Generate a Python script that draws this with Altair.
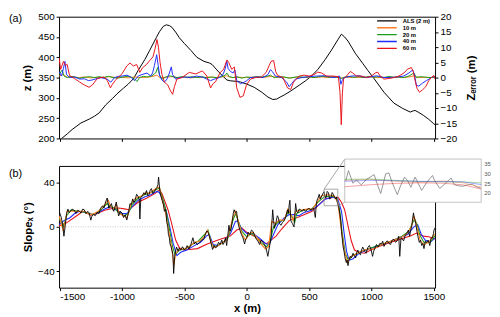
import altair as alt
import pandas as pd

SERIES = ["ALS (2 m)", "10 m", "20 m", "40 m", "60 m"]
COLORS = ["#000000", "#ff7f27", "#1c9c1c", "#1f2dff", "#e8141c"]

# ---------------- (a) elevation profile (left axis) ----------------
ALS_Z = [(-1510, 193), (-1484, 200), (-1440, 211), (-1400, 222), (-1330, 238), (-1261, 248), (-1220, 255),
         (-1183, 263), (-1130, 283), (-1078, 298), (-1040, 310), (-988, 324), (-950, 334), (-909, 347),
         (-870, 368), (-818, 394), (-780, 416), (-726, 448), (-700, 463), (-670, 476), (-645, 480),
         (-620, 478), (-600, 474), (-570, 462), (-540, 448), (-500, 434), (-448, 417), (-400, 400),
         (-343, 390), (-300, 386), (-277, 382), (-240, 369), (-200, 356), (-159, 344), (-130, 342),
         (-93, 341), (-50, 339), (0, 334), (60, 326), (120, 314), (170, 302), (209, 296), (240, 297),
         (274, 303), (300, 307), (353, 317), (420, 331), (471, 342), (520, 354), (570, 370), (628, 394),
         (680, 418), (730, 443), (759, 457), (785, 450), (812, 440), (870, 410), (930, 385), (970, 368),
         (1022, 347), (1100, 314), (1180, 287), (1250, 274), (1311, 265), (1335, 268), (1350, 269),
         (1380, 264), (1416, 257), (1460, 247), (1500, 236), (1510, 234)]

# ---------------- (a) elevation errors (right axis) ----------------
ERR_10 = [(-1505, 0.5), (-1470, 1.0), (-1440, 0.1), (-1400, 0.3), (-1350, 0.0), (-1300, 0.2), (-1250, -0.1),
          (-1200, 0.1), (-1150, 0.0), (-1100, 0.3), (-1050, 0.0), (-1000, 0.1), (-950, -0.1), (-900, 0.2),
          (-850, 0.0), (-800, 0.1), (-760, 0.3), (-720, 0.8), (-700, 0.0), (-650, 0.1), (-600, 0.3),
          (-550, 0.0), (-500, 0.1), (-450, -0.1), (-400, 0.1), (-350, 0.0), (-300, 0.2), (-250, 0.0),
          (-200, 0.2), (-160, 0.6), (-120, 0.0), (-60, 0.1), (0, 0.0), (60, 0.2), (120, 0.0), (200, 0.4),
          (250, 0.0), (300, 0.1), (350, -0.1), (400, 0.1), (450, 0.0), (500, 0.1), (550, 0.0), (600, 0.2),
          (650, 0.0), (700, 0.1), (760, -0.1), (800, 0.1), (850, 0.0), (900, 0.1), (950, 0.0), (1000, 0.2),
          (1050, 0.0), (1100, 0.1), (1150, 0.0), (1200, 0.1), (1250, 0.0), (1300, 0.2), (1340, 0.6),
          (1380, 0.0), (1440, 0.1), (1510, 0.0)]
ERR_20 = [(-1505, 1.0), (-1480, 2.5), (-1465, 0.5), (-1440, 0.0), (-1410, 0.4), (-1380, 0.2), (-1340, -0.2),
          (-1300, 0.1), (-1260, 0.3), (-1220, 0.0), (-1180, 0.3), (-1150, 0.0), (-1110, 0.4), (-1080, 0.1),
          (-1040, -0.2), (-1000, 0.1), (-960, 0.4), (-930, 0.2), (-900, -0.4), (-880, -1.3), (-860, 0.0),
          (-830, 0.4), (-800, 0.2), (-760, 0.6), (-730, 1.5), (-715, 3.3), (-700, 1.0), (-680, -0.5),
          (-650, 0.2), (-620, 0.6), (-600, 0.4), (-560, 0.0), (-520, 0.3), (-480, 0.1), (-440, 0.3),
          (-400, 0.0), (-360, 0.3), (-320, -0.1), (-280, 0.2), (-240, 0.0), (-200, 0.3), (-170, 0.9),
          (-160, 1.5), (-140, 0.3), (-110, 0.0), (-80, 0.3), (-40, -0.2), (0, 0.2), (40, 0.0), (80, 0.3),
          (120, 0.2), (160, 0.4), (190, 0.8), (220, 0.0), (260, 0.3), (300, 0.2), (340, -0.2), (380, 0.1),
          (420, 0.3), (460, 0.1), (500, 0.3), (540, 0.0), (580, 0.3), (620, 0.4), (660, 0.1), (700, 0.3),
          (740, 0.0), (760, -0.3), (790, 0.2), (820, 0.4), (860, 0.1), (900, 0.3), (940, 0.0), (980, 0.4),
          (1020, 0.1), (1060, 0.3), (1100, 0.0), (1140, 0.4), (1180, 0.1), (1220, 0.2), (1260, 0.0),
          (1300, 0.5), (1340, 1.5), (1360, 0.0), (1390, 0.3), (1420, 0.2), (1460, 0.0), (1510, 0.1)]
ERR_40 = [(-1505, 2.0), (-1485, 0.5), (-1470, 3.0), (-1458, 5.3), (-1445, 1.0), (-1420, 0.0), (-1380, 0.2),
          (-1340, -0.5), (-1300, -0.4), (-1270, -1.0), (-1240, -0.8), (-1200, -0.3), (-1170, 0.0),
          (-1120, -0.5), (-1090, -1.5), (-1060, 0.0), (-1030, 0.4), (-1000, 0.5), (-960, 0.8), (-930, 0.2),
          (-900, -1.0), (-870, 0.5), (-840, 1.0), (-800, 1.5), (-770, 0.5), (-755, 1.5), (-740, 4.0),
          (-722, 7.5), (-710, 4.0), (-698, 0.5), (-680, -0.8), (-660, -1.5), (-640, -0.5), (-620, 1.5),
          (-605, 3.5), (-595, 1.0), (-570, -0.5), (-540, 0.0), (-500, 0.2), (-450, 0.0), (-400, 0.5),
          (-350, 0.1), (-320, -0.5), (-290, -1.0), (-260, -0.5), (-220, 0.0), (-190, 1.0), (-172, 3.0),
          (-160, 5.5), (-150, 3.0), (-130, 2.0), (-110, 1.5), (-95, 2.5), (-80, -1.0), (-50, -2.0),
          (-20, -1.5), (0, -1.0), (30, 0.0), (80, 0.2), (130, 0.0), (170, 1.0), (190, 2.6), (205, 2.0),
          (230, 0.5), (280, 0.0), (320, -1.5), (340, -3.0), (360, -2.0), (390, -0.5), (440, 0.0),
          (500, 0.3), (560, 0.5), (620, 0.6), (700, 0.0), (745, 0.5), (755, -2.2), (765, -1.0), (780, 0.0),
          (840, 0.5), (900, 0.6), (960, 0.0), (1040, 0.6), (1100, 0.0), (1180, 0.1), (1260, 0.5),
          (1300, 1.5), (1330, 2.5), (1345, 1.0), (1360, -2.5), (1380, -2.8), (1410, -1.8), (1440, -1.0),
          (1470, -0.3), (1500, 0.5), (1510, 0.0)]
ERR_60 = [(-1505, 6.5), (-1492, 2.7), (-1470, 5.3), (-1455, 4.0), (-1440, 4.3), (-1421, 0.7), (-1382, -0.3),
          (-1342, -1.4), (-1303, -2.4), (-1264, -3.2), (-1237, -2.4), (-1198, -0.3), (-1146, 0.2),
          (-1119, -0.9), (-1093, -3.4), (-1080, -2.4), (-1054, -0.9), (-1001, 1.2), (-962, 3.8),
          (-936, 4.8), (-909, 3.8), (-883, 4.3), (-857, 1.7), (-836, 3.2), (-804, 4.3), (-780, 5.5),
          (-752, 6.8), (-735, 9.5), (-720, 12.5), (-708, 10.0), (-695, 5.0), (-680, 1.0), (-660, -1.5),
          (-634, -2.4), (-610, -4.5), (-594, -5.5), (-580, -3.0), (-560, -0.5), (-520, 0.0), (-461, 1.7),
          (-408, 1.2), (-356, 2.2), (-320, 0.5), (-290, -3.4), (-270, -2.0), (-251, -1.4), (-212, 1.7),
          (-185, 2.7), (-159, 5.8), (-145, 5.0), (-120, 2.7), (-100, 3.5), (-80, -3.4), (-54, -6.5),
          (-28, -6.0), (-2, -2.4), (30, -0.5), (70, 0.0), (117, 0.2), (156, 1.7), (180, 4.0), (195, 5.3),
          (216, 5.6), (232, 2.0), (248, 0.7), (290, 0.0), (327, -3.4), (353, -3.9), (375, -1.5),
          (420, 0.5), (460, 0.8), (500, 0.5), (540, 1.0), (570, 1.8), (600, 1.5), (640, 0.5), (690, 0.5),
          (735, 0.3), (748, -5.0), (758, -15.5), (767, -5.0), (776, -0.5), (800, 0.5), (830, 2.0),
          (850, 1.5), (880, 0.5), (920, 0.5), (960, 0.0), (1000, 0.5), (1030, 1.5), (1050, 1.8),
          (1070, 0.5), (1100, -0.5), (1140, -0.3), (1180, 0.0), (1220, 0.5), (1260, 1.5), (1290, 2.8),
          (1320, 3.3), (1335, 2.0), (1350, -1.0), (1365, -3.5), (1385, -4.8), (1410, -4.0), (1435, -3.0),
          (1460, -1.0), (1480, 0.0), (1500, 0.7), (1510, -0.5)]

# ---------------- (b) slope profiles ----------------
SLOPE_ALS = [(-1505, 12), (-1500, 12.6), (-1487, 8.4), (-1476, 2), (-1466, -8.5), (-1455, 1.4), (-1445, 12),
             (-1434, 16), (-1424, 13), (-1413, 14), (-1400, 16), (-1382, 14.8), (-1370, 12), (-1355, 15),
             (-1342, 14), (-1330, 12.5), (-1315, 16), (-1303, 15.4), (-1290, 12), (-1275, 14), (-1264, 12.6),
             (-1250, 6), (-1243, 9.2), (-1229, 11.2), (-1215, 10), (-1200, 13), (-1185, 12), (-1172, 16.8),
             (-1155, 19), (-1145, 17), (-1132, 22.4), (-1119, 26), (-1106, 16.8), (-1095, 19), (-1085, 21),
             (-1075, 16), (-1067, 14), (-1056, 18), (-1046, 22.4), (-1036, 15), (-1027, 9.8), (-1015, 14),
             (-1001, 12.6), (-988, 8.4), (-975, 11), (-962, 6.1), (-949, 12.6), (-936, 21), (-925, 20),
             (-915, 25.2), (-905, 22), (-896, 23.8), (-883, 29.4), (-870, 27), (-862, 25), (-857, 7),
             (-849, 26.6), (-838, 28), (-825, 30.8), (-815, 29), (-804, 32.8), (-793, 28), (-783, 29.4),
             (-774, 33), (-765, 34.5), (-752, 30), (-739, 32.2), (-730, 34), (-720, 35.6), (-712, 38),
             (-707, 44.9), (-700, 36), (-694, 30.8), (-686, 27), (-678, 23.8), (-668, 20), (-660, 14),
             (-650, 16), (-641, 4.2), (-633, 0), (-628, -7), (-620, -10), (-615, -15.5), (-607, -18),
             (-600, -21.1), (-592, -25), (-586, -42.2), (-578, -26.7), (-570, -22), (-563, -18.3), (-550, -22),
             (-540, -19), (-529, -21.1), (-515, -18), (-500, -21), (-489, -19.7), (-478, -17), (-465, -20),
             (-450, -16.9), (-440, -13), (-432, -9.9), (-420, -15.5), (-411, -14), (-395, -16), (-379, -14.1),
             (-362, -12), (-345, -11.3), (-330, -6), (-319, -3.7), (-310, -5), (-300, -8.5), (-288, -14),
             (-274, -20.5), (-262, -17), (-250, -19), (-240, -18.3), (-226, -14), (-214, -16), (-200, -12),
             (-190, -16), (-180, -14.1), (-170, -10), (-161, -16.9), (-152, -8), (-143, 1.4), (-135, -4),
             (-127, -2.9), (-115, 6), (-108, 12), (-101, 15.4), (-92, 13), (-82, 14), (-75, 8), (-69, 2.8),
             (-55, -3), (-43, -7), (-30, -10), (-17, -15.5), (-8, -11), (2, -9.9), (12, -5), (25, -7),
             (38, -3), (51, -4.3), (64, -8), (77, -11.3), (90, -13), (103, -16), (116, -12), (130, -14.1),
             (143, -16), (156, -19.7), (169, -26.7), (182, -18.3), (195, -9.9), (202, 4), (208, 15.4),
             (215, 6), (222, -1.4), (235, 4.2), (245, 10), (253, 8.4), (263, 3), (274, 1.4), (287, 4),
             (300, 5.6), (313, 9), (327, 15.4), (334, 12), (340, 19.6), (346, 24), (353, 5.6), (366, 3),
             (379, -0.1), (385, 10), (392, 21), (400, 14), (410, 12.6), (420, 16), (431, 15.4), (445, 14),
             (458, 16), (470, 14), (484, 15.4), (497, 17), (510, 15.4), (524, 16), (537, 16.8), (544, 12),
             (550, 8.4), (556, 18), (563, 23.8), (572, 26), (581, 29.4), (590, 25), (602, 28), (611, 30),
             (620, 31.7), (628, 27), (636, 26.1), (645, 32), (655, 30.8), (665, 25), (676, 26.6), (685, 31),
             (694, 29.4), (703, 27), (712, 25.2), (720, 27), (728, 21), (738, 18), (747, 11.2), (754, 5),
             (760, -4.3), (767, -12), (773, -18.3), (780, -22), (786, -26.7), (792, -30), (799, -32.3),
             (805, -30), (812, -35.1), (820, -30), (831, -26.7), (840, -28), (852, -23.9), (862, -26),
             (873, -28.1), (882, -23), (891, -21.1), (900, -24), (912, -25.3), (920, -21), (930, -18.3),
             (945, -22), (957, -23.9), (970, -19), (983, -16.9), (995, -20), (1009, -26.7), (1018, -22),
             (1027, -19.7), (1040, -16), (1054, -18.3), (1067, -15), (1080, -15.5), (1090, -13),
             (1101, -17.7), (1115, -14), (1127, -12.7), (1140, -15), (1153, -16), (1166, -12), (1180, -11.3),
             (1193, -14), (1206, -12.7), (1219, -8.5), (1227, -26.7), (1237, -9.9), (1248, -11),
             (1258, -12.7), (1270, -8), (1285, -5.7), (1296, -3), (1306, -8.5), (1315, -3), (1324, 1.4),
             (1331, 8), (1337, 12.6), (1343, 8), (1348, 7), (1355, 3), (1363, -2.9), (1373, -9),
             (1384, -14.1), (1393, -12), (1403, -16.9), (1412, -15), (1421, -19.7), (1432, -13),
             (1442, -14.1), (1455, -12), (1468, -16.9), (1478, -10), (1489, -9.9), (1497, -6), (1502, -2.9),
             (1510, -1)]
SLOPE_10 = [(-1505, 10), (-1470, -4), (-1440, 14), (-1400, 14), (-1350, 14), (-1300, 14), (-1260, 11),
            (-1220, 12), (-1180, 15), (-1130, 21), (-1110, 24), (-1090, 18), (-1070, 16), (-1045, 20),
            (-1020, 12), (-990, 10), (-960, 8), (-930, 20), (-900, 25), (-870, 27), (-840, 28), (-810, 31),
            (-780, 30), (-750, 33), (-720, 35), (-700, 36), (-680, 25), (-650, 12), (-625, -4), (-600, -20),
            (-585, -35), (-570, -24), (-540, -20), (-500, -20), (-460, -18), (-420, -14), (-380, -13),
            (-340, -9), (-315, -3), (-290, -12), (-265, -19), (-230, -17), (-190, -14), (-160, -12),
            (-140, -4), (-110, 9), (-90, 14), (-70, 6), (-40, -6), (-10, -12), (20, -6), (50, -5), (80, -10),
            (110, -15), (150, -20), (175, -18), (200, 5), (230, 3), (260, 6), (300, 6), (330, 16), (345, 14),
            (370, 6), (395, 14), (430, 15), (480, 16), (530, 16), (560, 22), (600, 28), (650, 29), (700, 28),
            (730, 22), (755, 0), (780, -20), (805, -32), (830, -27), (870, -25), (920, -22), (970, -20),
            (1020, -20), (1080, -16), (1130, -14), (1180, -12), (1230, -10), (1280, -7), (1320, 0),
            (1340, 10), (1360, 2), (1390, -12), (1420, -16), (1460, -14), (1510, -6)]
SLOPE_20 = [(-1505, 8), (-1470, 0), (-1445, 10), (-1410, 15), (-1350, 14), (-1290, 13), (-1240, 11),
            (-1180, 14), (-1120, 21), (-1090, 18), (-1060, 17), (-1030, 13), (-980, 10), (-950, 12),
            (-920, 20), (-870, 26), (-820, 29), (-770, 31), (-720, 34), (-700, 35), (-680, 28), (-650, 16),
            (-620, -2), (-595, -18), (-575, -25), (-540, -21), (-490, -20), (-440, -16), (-390, -13),
            (-330, -6), (-310, -3), (-280, -16), (-250, -18), (-200, -15), (-150, -10), (-110, 6), (-90, 12),
            (-70, 6), (-40, -4), (0, -9), (40, -6), (80, -10), (120, -15), (160, -18), (185, -14), (215, 0),
            (260, 5), (300, 6), (335, 14), (360, 10), (385, 4), (400, 12), (450, 15), (520, 16), (570, 22),
            (620, 27), (680, 28), (720, 26), (745, 15), (765, -5), (790, -24), (815, -30), (850, -26),
            (920, -22), (1000, -19), (1080, -16), (1160, -13), (1240, -9), (1300, -4), (1340, 6),
            (1360, 4), (1390, -8), (1420, -14), (1470, -14), (1510, -8)]
SLOPE_40 = [(-1505, 2), (-1460, 6), (-1420, 8), (-1380, 12), (-1340, 14), (-1290, 13), (-1240, 11),
            (-1190, 13), (-1140, 16), (-1100, 18), (-1070, 16), (-1040, 15), (-1000, 12), (-960, 12),
            (-920, 18), (-870, 24), (-820, 27), (-770, 29), (-720, 32), (-700, 31), (-670, 23), (-640, 12),
            (-610, -4), (-590, -15), (-560, -26), (-530, -23), (-480, -21), (-420, -17), (-370, -14),
            (-320, -8), (-300, -7), (-270, -16), (-230, -17), (-180, -13), (-130, -6), (-90, 5), (-70, 5),
            (-40, -2), (0, -6), (50, -6), (100, -10), (150, -15), (180, -16), (210, -8), (250, 2), (300, 8),
            (340, 11), (380, 11), (420, 10), (460, 13), (520, 15), (580, 20), (630, 25), (690, 27),
            (730, 25), (760, 14), (780, -5), (800, -22), (820, -30), (850, -29), (900, -24), (980, -20),
            (1060, -17), (1140, -14), (1220, -10), (1290, -7), (1340, 0), (1370, 2), (1400, -7),
            (1430, -12), (1470, -14), (1510, -10)]
SLOPE_60 = [(-1505, 0.8), (-1445, 3.6), (-1366, 9.8), (-1314, 14), (-1250, 10.5), (-1198, 12), (-1140, 15),
            (-1078, 16.5), (-1026, 17), (-970, 16), (-946, 15.4), (-868, 22.4), (-800, 26), (-737, 30),
            (-700, 33.5), (-680, 30), (-660, 24), (-630, 15), (-600, 2), (-570, -12), (-540, -19),
            (-510, -21), (-460, -20.5), (-395, -19.7), (-317, -15.5), (-230, -12), (-133, -8.4),
            (-80, -2.9), (-40, -1), (0, -5), (79, -9.8), (157, -15.5), (235, -8.4), (280, -2), (340, 5.6),
            (420, 9), (524, 14), (580, 20), (628, 25.3), (690, 26.5), (733, 26.6), (760, 22), (785, 15.4),
            (810, 2), (838, -12.6), (864, -21), (900, -23), (943, -23.9), (1048, -18.3), (1180, -13),
            (1311, -8.4), (1363, -5.6), (1416, -8.4), (1460, -9), (1510, -11)]

# ---------------- inset (zoom of x = 620..730) ----------------
INSET_ALS = [(620.8, 26.5), (623, 31.8), (626.6, 25.3), (629.5, 27), (633.2, 24.5), (638, 27.5),
             (643.7, 29.7), (646.4, 24.5), (649, 20), (653, 30.1), (655.6, 30.6), (658, 26), (662.4, 19.4),
             (665, 24), (668.2, 28.5), (670.8, 26.5), (673.3, 23.2), (676.7, 28.5), (679.4, 25),
             (682, 21.6), (685.8, 25.5), (690.7, 29.3), (692.6, 26.5), (696.6, 22.6), (700.8, 25),
             (705.7, 28), (708.4, 24.5), (711.8, 24), (715, 23.7), (718.9, 24.5), (722.9, 24.7),
             (726, 23.5), (729.4, 22.9)]
INSET_10 = [(620, 26.8), (640, 27.3), (660, 26.3), (680, 25.8), (700, 26.5), (715, 25.5), (730, 23.3)]
INSET_20 = [(620, 27.3), (640, 27.5), (660, 26.8), (680, 26.2), (700, 26.0), (715, 26.0), (730, 25.5)]
INSET_40 = [(620, 26.3), (640, 26.8), (660, 26.6), (680, 26.3), (700, 26.2), (715, 26.0), (730, 24.6)]
INSET_60 = [(620, 23.5), (640, 24.5), (660, 25.2), (680, 25.5), (700, 25.3), (715, 24.5), (730, 22.3)]
INSET_TICKS = [20, 25, 30, 35]

ZOOM_BOX = {"x0": [620], "x1": [730], "y0": [19], "y1": [34]}
INSET_BOX = {"x0": [620], "x1": [730], "y0": [15.5], "y1": [37.75]}

X_TICKS = [-1500, -1000, -500, 0, 500, 1000, 1500]
Z_TICKS = [200, 250, 300, 350, 400, 450, 500]
E_TICKS = [-20, -15, -10, -5, 0, 5, 10, 15, 20]
S_TICKS = [-40, -20, 0, 20, 40]

XD = [-1505, 1510]
W = 383
H = 124
FONT = "Liberation Sans"

# inset placement in pixels relative to panel (b) plot area
INSET_XR = [291, 430]
INSET_YR = [37, -7]


def df(pairs, name, col="v"):
    return pd.DataFrame({"x": [p[0] for p in pairs], col: [p[1] for p in pairs], "series": name})


color_scale = alt.Scale(domain=SERIES, range=COLORS)
legend = alt.Legend(orient="none", legendX=323, legendY=1, title=None, symbolType="stroke",
                    symbolSize=400, symbolStrokeWidth=1.4, labelFontSize=6, labelFont=FONT,
                    labelFontWeight="bold", clipHeight=6.5, rowPadding=0, labelOffset=5, labelColor="black")

x_top = alt.X("x:Q", scale=alt.Scale(domain=XD, nice=False, zero=False),
              axis=alt.Axis(values=X_TICKS, labels=False, title=None))

als_top = alt.Chart(df(ALS_Z, SERIES[0], "z")).mark_line(strokeWidth=1, clip=True).encode(
    x=x_top,
    y=alt.Y("z:Q", scale=alt.Scale(domain=[200, 500], nice=False, zero=False),
            axis=alt.Axis(values=Z_TICKS, title="z (m)", titlePadding=5)),
    color=alt.Color("series:N", scale=color_scale, legend=legend),
)

err_layers = []
for pairs, name in [(ERR_10, SERIES[1]), (ERR_20, SERIES[2]), (ERR_40, SERIES[3]), (ERR_60, SERIES[4])]:
    err_layers.append(
        alt.Chart(df(pairs, name, "e")).mark_line(strokeWidth=1, clip=True).encode(
            x=x_top,
            y=alt.Y("e:Q", scale=alt.Scale(domain=[-20, 20], nice=False, zero=False),
                    axis=alt.Axis(values=E_TICKS, orient="right", title="Zₑᵣᵣₒᵣ (m)", titlePadding=20,
                                  titleAngle=270)),
            color=alt.Color("series:N", scale=color_scale, legend=legend),
        )
    )

label_a = alt.Chart(pd.DataFrame({"t": ["(a)"]})).mark_text(
    align="left", baseline="top", fontSize=11, font=FONT, color="black").encode(
    x=alt.value(-51), y=alt.value(-4), text="t:N")

top = alt.layer(als_top, alt.layer(*err_layers), label_a).resolve_scale(y="independent").properties(
    width=W, height=H)

# ---------------- panel (b) ----------------
x_bot = alt.X("x:Q", scale=alt.Scale(domain=XD, nice=False, zero=False),
              axis=alt.Axis(values=X_TICKS, title="x (m)", labelExpr="toString(datum.value)",
                            labelPadding=1, titlePadding=1))
y_bot = alt.Y("v:Q", scale=alt.Scale(domain=[-55, 55], nice=False, zero=False),
              axis=alt.Axis(values=S_TICKS, title="Slopeₓ (°)", titlePadding=4))

main_layers = [
    alt.Chart(pd.DataFrame({"v": [0]})).mark_rule(color="#c8c8c8", strokeDash=[1, 1.5], strokeWidth=1)
    .encode(y=alt.Y("v:Q", scale=alt.Scale(domain=[-55, 55], nice=False, zero=False)))
]
for pairs, name, col, sw in [(SLOPE_60, SERIES[4], COLORS[4], 1.1), (SLOPE_40, SERIES[3], COLORS[3], 1.1),
                             (SLOPE_20, SERIES[2], COLORS[2], 1.1), (SLOPE_10, SERIES[1], COLORS[1], 1.1),
                             (SLOPE_ALS, SERIES[0], COLORS[0], 0.9)]:
    main_layers.append(
        alt.Chart(df(pairs, name)).mark_line(strokeWidth=sw, clip=True, color=col).encode(x=x_bot, y=y_bot)
    )

zb = pd.DataFrame(ZOOM_BOX)
xs = alt.Scale(domain=XD, nice=False, zero=False)
ys = alt.Scale(domain=[-55, 55], nice=False, zero=False)
main_layers.append(
    alt.Chart(zb).mark_rect(fill=None, stroke="#909090", strokeWidth=0.8).encode(
        x=alt.X("x0:Q", scale=xs), x2="x1:Q", y=alt.Y("y0:Q", scale=ys), y2="y1:Q")
)
main_layers.append(
    alt.Chart(zb).mark_rule(color="#909090", strokeWidth=0.8).encode(
        x=alt.X("x0:Q", scale=xs), y=alt.Y("y1:Q", scale=ys),
        x2=alt.value(INSET_XR[0]), y2=alt.value(INSET_YR[1]))
)
main_layers.append(
    alt.Chart(zb).mark_rule(color="#909090", strokeWidth=0.8).encode(
        x=alt.X("x1:Q", scale=xs), y=alt.Y("y0:Q", scale=ys),
        x2=alt.value(INSET_XR[0]), y2=alt.value(INSET_YR[0]))
)
label_b = alt.Chart(pd.DataFrame({"t": ["(b)"]})).mark_text(
    align="left", baseline="top", fontSize=11, font=FONT, color="black").encode(
    x=alt.value(-51), y=alt.value(2), text="t:N")
main_layers.append(label_b)
main = alt.layer(*main_layers)

ixs = alt.Scale(domain=[620, 730], range=INSET_XR, nice=False, zero=False)
iys = alt.Scale(domain=[15.5, 37.75], range=INSET_YR, nice=False, zero=False)
inset_layers = [
    alt.Chart(pd.DataFrame(INSET_BOX)).mark_rect(fill="white", stroke="#b4b4b4", strokeWidth=0.8).encode(
        x=alt.X("x0:Q", scale=ixs, axis=None), x2="x1:Q",
        y=alt.Y("y0:Q", scale=iys, axis=None), y2="y1:Q")
]
for pairs, name, col, op in [(INSET_ALS, SERIES[0], "#8a8a8a", 1.0), (INSET_10, SERIES[1], COLORS[1], 0.45),
                             (INSET_20, SERIES[2], COLORS[2], 0.45), (INSET_40, SERIES[3], COLORS[3], 0.45),
                             (INSET_60, SERIES[4], COLORS[4], 0.45)]:
    inset_layers.append(
        alt.Chart(df(pairs, name)).mark_line(strokeWidth=0.9, color=col, opacity=op).encode(
            x=alt.X("x:Q", scale=ixs, axis=None), y=alt.Y("v:Q", scale=iys, axis=None))
    )
inset_layers.append(
    alt.Chart(pd.DataFrame({"v": INSET_TICKS})).mark_text(
        align="left", baseline="middle", fontSize=6, font=FONT, color="#555555").encode(
        x=alt.value(INSET_XR[1] + 3), y=alt.Y("v:Q", scale=iys, axis=None), text="v:Q")
)
inset = alt.layer(*inset_layers)

bottom = alt.layer(main, inset).resolve_scale(x="independent", y="independent").properties(width=W, height=H)

chart = alt.vconcat(top, bottom, spacing=14).resolve_scale(
    x="independent", y="independent", color="independent"
).properties(padding={"left": 0, "top": 0, "right": 0, "bottom": 0}).configure_view(
    stroke="black", strokeWidth=1
).configure_axis(
    labelFont=FONT, labelFontSize=10, labelColor="black", titleFont=FONT, titleFontSize=11.5,
    titleFontWeight="bold", titleColor="black", tickColor="black", tickSize=3, domain=False, grid=False,
    labelPadding=2
)

chart.save("out.html", embed_options={"renderer": "svg", "actions": False})
